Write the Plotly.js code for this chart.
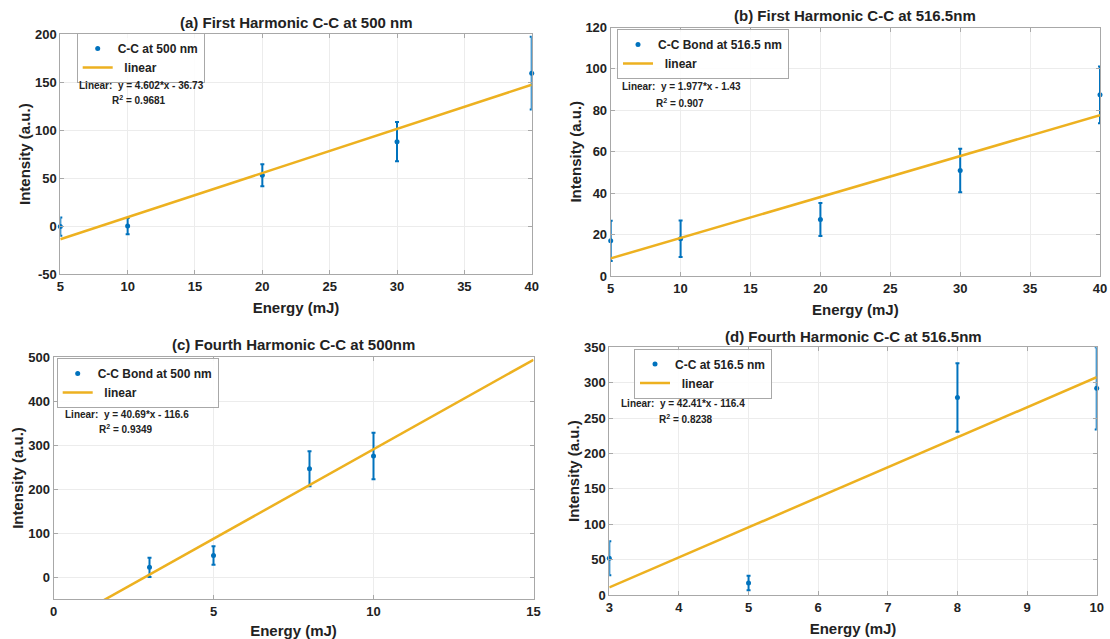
<!DOCTYPE html>
<html>
<head>
<meta charset="utf-8">
<script src="https://cdn.plot.ly/plotly-3.0.1.min.js"></script>
<style>html,body{margin:0;padding:0;background:#fff;}#chart{width:1110px;height:639px;}</style>
</head>
<body>
<div id="chart"></div>
<script>
// ---------- data ----------
// (a) First Harmonic C-C at 500 nm
const aEnergy = [5, 10, 20, 30, 40];
const aIntensity = [-0.5, 0, 53, 88, 159.5];
const aError = [9.5, 8.5, 11.5, 20.5, 38];
const aFitX = [5, 40];
const aFitY = [-13.7, 147.4];
const aYTickVals = [-50, 0, 50, 100, 150, 200];
const aYTickText = ['-50', '0', '50', '100', '150', '200'];
// (b) First Harmonic C-C at 516.5nm
const bEnergy = [5, 10, 20, 30, 40];
const bIntensity = [17, 18, 27.3, 51, 87.5];
const bError = [9.7, 8.8, 8, 10.5, 13.7];
const bFitX = [5, 40];
const bFitY = [8.5, 77.7];
// (c) Fourth Harmonic C-C at 500nm
const cEnergy = [3, 5, 8, 10];
const cIntensity = [22, 49, 246, 275];
const cError = [22, 21, 40, 53];
const cFitX = [0, 15];
const cFitY = [-116.6, 493.8];
// (d) Fourth Harmonic C-C at 516.5nm
const dEnergy = [3, 5, 8, 10];
const dIntensity = [52, 17, 279, 292];
const dError = [24, 10.3, 48.5, 58];
const dFitX = [3, 10];
const dFitY = [10.8, 307.7];

const titles = ['(a) First Harmonic C-C at 500 nm', '(b) First Harmonic C-C at 516.5nm',
                '(c) Fourth Harmonic C-C at 500nm', '(d) Fourth Harmonic C-C at 516.5nm'];
const seriesNames = ['C-C at 500 nm', 'C-C Bond at 516.5 nm', 'C-C Bond at 500 nm', 'C-C at 516.5 nm'];
const fitName = '\u00a0\u00a0linear';
const eqTexts = ['Linear:\u00a0\u00a0y = 4.602*x - 36.73', 'Linear:\u00a0\u00a0y = 1.977*x - 1.43',
                 'Linear:\u00a0\u00a0y = 40.69*x - 116.6', 'Linear:\u00a0\u00a0y = 42.41*x - 116.4'];
const r2Texts = ['R<sup>2</sup> = 0.9681', 'R<sup>2</sup> = 0.907', 'R<sup>2</sup> = 0.9349', 'R<sup>2</sup> = 0.8238'];
const xTitle = 'Energy (mJ)';
const yTitle = 'Intensity (a.u.)';

// ---------- styling ----------
const W = 1110, H = 639;
const FONT = 'Liberation Sans, Arial, sans-serif';
const BLUE = '#0072BD', ORANGE = '#EDB120';
const px = v => v / W;
const py = v => 1 - v / H;

// plot boxes in pixels: [left, right, top, bottom]
const boxes = [
  [60.3, 531.7, 34.3, 274],
  [610.7, 1100, 27.5, 276],
  [53.5, 533.5, 357, 599],
  [609.3, 1096.7, 347.3, 595]
];
const xRanges = [[5, 40], [5, 40], [0, 15], [3, 10]];
const yRanges = [[-50, 200], [0, 120], [-50, 500], [0, 350]];
const xDticks = [5, 5, 5, 1];
const yDticks = [50, 20, 100, 50];
const yTick0 = [-50, 0, 0, 0];
const titleY = [23, 15, 344, 336];
const legendPos = [[76.7, 33], [617, 29], [56.7, 358], [634, 348.5]];
const eqPos = [[77, 85], [620, 86.7], [63, 414], [618.7, 403.3]];
const r2Pos = [[110, 100.5], [654, 102.7], [97, 429], [656.7, 419.3]];

const sets = [
  [aEnergy, aIntensity, aError, aFitX, aFitY],
  [bEnergy, bIntensity, bError, bFitX, bFitY],
  [cEnergy, cIntensity, cError, cFitX, cFitY],
  [dEnergy, dIntensity, dError, dFitX, dFitY]
];

const data = [];
const layout = {
  width: W, height: H,
  margin: {l: 0, r: 0, t: 0, b: 0},
  paper_bgcolor: '#ffffff', plot_bgcolor: '#ffffff',
  font: {family: FONT, color: '#222222'},
  showlegend: true,
  annotations: []
};

sets.forEach((s, i) => {
  const n = i + 1;
  const xa = n === 1 ? 'x' : 'x' + n;
  const ya = n === 1 ? 'y' : 'y' + n;
  const lg = n === 1 ? 'legend' : 'legend' + n;
  data.push({
    type: 'scatter', mode: 'markers', x: s[0], y: s[1],
    name: seriesNames[i], xaxis: xa, yaxis: ya, legend: lg,
    cliponaxis: false,
    marker: {color: BLUE, size: 5},
    error_y: {type: 'data', array: s[2], visible: true, color: BLUE, thickness: 2, width: 2}
  });
  data.push({
    type: 'scatter', mode: 'lines', x: s[3], y: s[4],
    name: fitName, xaxis: xa, yaxis: ya, legend: lg,
    line: {color: ORANGE, width: 2.5}
  });
  const b = boxes[i];
  const axBase = {
    showline: true, mirror: 'ticks', linecolor: '#a8a8a8', linewidth: 1,
    ticks: 'inside', ticklen: 4, tickcolor: '#a8a8a8',
    showgrid: true, gridcolor: '#ececec', gridwidth: 1, zeroline: false,
    tickfont: {family: FONT, size: 13, color: '#222222', weight: 'bold'},
    fixedrange: true
  };
  layout['xaxis' + (n === 1 ? '' : n)] = Object.assign({}, axBase, {
    domain: [px(b[0]), px(b[1])], anchor: ya, range: xRanges[i],
    tickmode: 'linear', tick0: 0, dtick: xDticks[i],
    title: {text: xTitle, font: {family: FONT, size: 15, color: '#222222', weight: 'bold'}, standoff: 9}
  });
  const yax = Object.assign({}, axBase, {
    domain: [py(b[3]), py(b[2])], anchor: xa, range: yRanges[i],
    tickmode: 'linear', tick0: yTick0[i], dtick: yDticks[i],
    title: {text: yTitle, font: {family: FONT, size: 15, color: '#222222', weight: 'bold'}, standoff: 0}
  });
  if (i === 0) {
    yax.tickmode = 'array';
    yax.tickvals = aYTickVals;
    yax.ticktext = aYTickText;
  }
  layout['yaxis' + (n === 1 ? '' : n)] = yax;
  layout[lg] = {
    x: px(legendPos[i][0]), y: py(legendPos[i][1]), xanchor: 'left', yanchor: 'top',
    xref: 'paper', yref: 'paper',
    bgcolor: 'rgba(255,255,255,0.9)', bordercolor: '#a8a8a8', borderwidth: 1,
    font: {family: FONT, size: 12, color: '#222222', weight: 'bold'},
    itemwidth: 30, tracegroupgap: 0
  };
  layout.annotations.push({
    xref: 'paper', yref: 'paper', x: px((b[0] + b[1]) / 2), y: py(titleY[i]),
    xanchor: 'center', yanchor: 'middle', showarrow: false, text: titles[i],
    font: {family: FONT, size: 15, color: '#222222', weight: 'bold'}
  });
  layout.annotations.push({
    xref: 'paper', yref: 'paper', x: px(eqPos[i][0]), y: py(eqPos[i][1]),
    xanchor: 'left', yanchor: 'middle', showarrow: false, text: eqTexts[i],
    font: {family: FONT, size: 10, color: '#222222', weight: 'bold'}
  });
  layout.annotations.push({
    xref: 'paper', yref: 'paper', x: px(r2Pos[i][0]), y: py(r2Pos[i][1]),
    xanchor: 'left', yanchor: 'middle', showarrow: false, text: r2Texts[i],
    font: {family: FONT, size: 10, color: '#222222', weight: 'bold'}
  });
});

Plotly.newPlot('chart', data, layout, {staticPlot: true, displayModeBar: false});
</script>
</body>
</html>
